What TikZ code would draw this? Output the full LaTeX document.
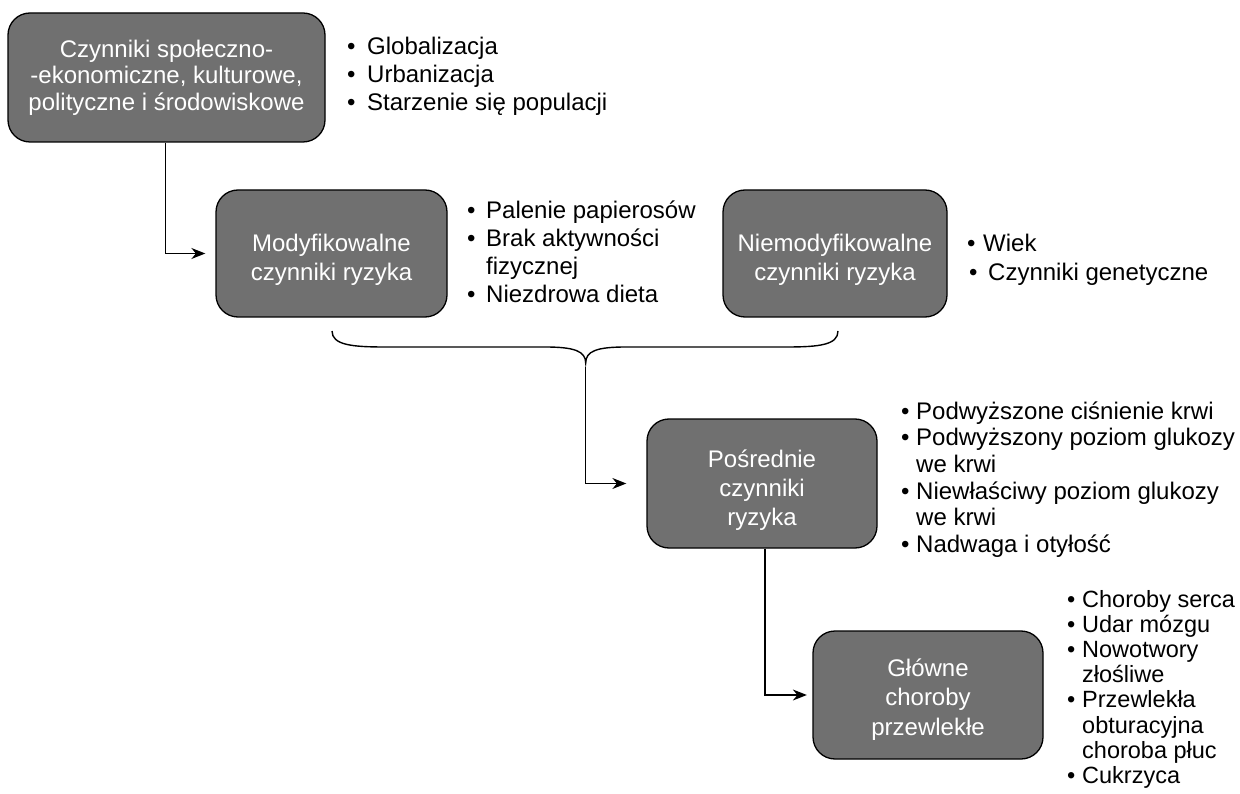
\documentclass[tikz,border=0pt]{standalone}
\usepackage{fontspec}
\setmainfont{Liberation Sans}
\usetikzlibrary{arrows.meta}
\definecolor{boxgray}{RGB}{112,112,112}
\begin{document}
\begin{tikzpicture}[x=1pt,y=-1pt,
  box/.style={draw=black,line width=1.3pt,fill=boxgray,rounded corners=22pt,
    text=white,align=center,inner sep=0pt},
  lst/.style={anchor=base west,inner sep=0pt,text=black},
  conn/.style={draw=black,line width=1.4pt,-{Stealth[length=14pt,width=11pt,inset=4.5pt]}},
  bracestyle/.style={draw=black,line width=1.4pt}
]
\useasboundingbox (0,0) rectangle (1240,794);

% boxes
\node[box,minimum width=317pt,minimum height=129pt,font=\fontsize{24}{26.6}\selectfont]
  (b1) at (166.5,77.5) {Czynniki społeczno-\\-ekonomiczne, kulturowe,\\polityczne i środowiskowe};
\node[box,minimum width=231pt,minimum height=127pt,font=\fontsize{24}{28.5}\selectfont]
  (b2) at (331.5,253.5) {\rule{0pt}{29.5pt}Modyfikowalne\\czynniki ryzyka};
\node[box,minimum width=224pt,minimum height=127pt,font=\fontsize{24}{28.5}\selectfont]
  (b2b) at (835,253.5) {\rule{0pt}{29.5pt}Niemodyfikowalne\\czynniki ryzyka};
\node[box,minimum width=230pt,minimum height=129pt,font=\fontsize{24}{29}\selectfont]
  (b3) at (762,483.5) {\rule{0pt}{31pt}Pośrednie\\czynniki\\ryzyka};
\node[box,minimum width=230pt,minimum height=128pt,font=\fontsize{24}{29.5}\selectfont]
  (b4) at (928,695) {\rule{0pt}{26pt}Główne\\choroby\\przewlekłe};

% lists
\node[lst,font=\fontsize{24}{27.6}\selectfont] (l1) at (347,55)
  {\begin{tabular}[t]{@{}l@{}}
   \makebox[20pt][l]{•}Globalizacja\\
   \makebox[20pt][l]{•}Urbanizacja\\
   \makebox[20pt][l]{•}Starzenie się populacji
   \end{tabular}};
\node[lst,font=\fontsize{24}{27.8}\selectfont] (l2) at (467,219)
  {\begin{tabular}[t]{@{}l@{}}
   \makebox[19pt][l]{•}Palenie papierosów\\
   \makebox[19pt][l]{•}Brak aktywności\\
   \hspace*{19pt}fizycznej\\
   \makebox[19pt][l]{•}Niezdrowa dieta
   \end{tabular}};
\node[lst,font=\fontsize{24}{28.8}\selectfont] (l3) at (967,251.5)
  {\begin{tabular}[t]{@{}l@{}}
   \makebox[16pt][l]{•}Wiek\\
   \hspace*{2pt}\makebox[19pt][l]{•}Czynniki genetyczne
   \end{tabular}};
\node[lst,font=\fontsize{24}{26.7}\selectfont] (l4) at (901,419)
  {\begin{tabular}[t]{@{}l@{}}
   \makebox[15pt][l]{•}Podwyższone ciśnienie krwi\\
   \makebox[15pt][l]{•}Podwyższony poziom glukozy\\
   \hspace*{15pt}we krwi\\
   \makebox[15pt][l]{•}Niewłaściwy poziom glukozy\\
   \hspace*{15pt}we krwi\\
   \makebox[15pt][l]{•}Nadwaga i otyłość
   \end{tabular}};
\node[lst,font=\fontsize{23.5}{25.2}\selectfont] (l5) at (1067,607)
  {\begin{tabular}[t]{@{}l@{}}
   \makebox[15pt][l]{•}Choroby serca\\
   \makebox[15pt][l]{•}Udar mózgu\\
   \makebox[15pt][l]{•}Nowotwory\\
   \hspace*{15pt}złośliwe\\
   \makebox[15pt][l]{•}Przewlekła\\
   \hspace*{15pt}obturacyjna\\
   \hspace*{15pt}choroba płuc\\
   \makebox[15pt][l]{•}Cukrzyca
   \end{tabular}};

% brace
\coordinate (brl) at (332,331);
\coordinate (brr) at (838,331);
\coordinate (bt) at (585.7,363);
\draw[bracestyle] (brl) .. controls (332,345) and (352,347) .. (385,347)
  -- (545,347) .. controls (574,347) and (585.7,351) .. (bt)
  .. controls (585.7,351) and (597,347) .. (626,347)
  -- (786,347) .. controls (819,347) and (838,345) .. (brr);

% connectors
\draw[conn,shorten >=10pt] (b1.south) ++(-0.8,0) |- (b2.west);
\draw[conn,shorten >=20pt] (bt) ++(0,4) |- (b3.west);
\draw[conn,shorten >=5.5pt] (b3.south) ++(3,0) |- (b4.west);
\end{tikzpicture}
\end{document}
